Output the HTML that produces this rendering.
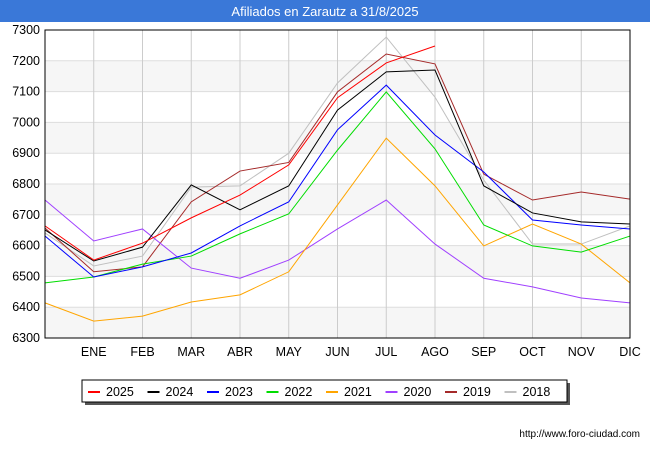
<!DOCTYPE html>
<html><head><meta charset="utf-8"><style>
body{margin:0;background:#fff;font-family:"Liberation Sans",sans-serif}
</style></head><body>
<svg id="c" width="650" height="450" xmlns="http://www.w3.org/2000/svg" font-family="Liberation Sans, sans-serif">
<rect x="0" y="0" width="650" height="22" fill="#3a78d8"/>
<text x="325" y="16" text-anchor="middle" fill="#fff" font-size="13">Afiliados en Zarautz a 31/8/2025</text>
<g id="grid"></g><g id="series"></g>
<rect x="45" y="30" width="585" height="308" fill="none" stroke="#000"/>
<g id="legend"></g>
<text x="640" y="437" text-anchor="end" font-size="10" fill="#000">http://www.foro-ciudad.com</text>
</svg>
<script>
const months=["","ENE","FEB","MAR","ABR","MAY","JUN","JUL","AGO","SEP","OCT","NOV","DIC"];
const yTicks=[6300,6400,6500,6600,6700,6800,6900,7000,7100,7200,7300];
const years=["2025","2024","2023","2022","2021","2020","2019","2018"];
const colors=["#ff0000","#000000","#0000ff","#00dd00","#ffa500","#a040ff","#a52a2a","#c0c0c0"];
const s2025=[6664,6553,6608,6690,6764,6862,7080,7193,7248];
const s2024=[6651,6550,6595,6797,6716,6794,7040,7164,7170,6794,6706,6677,6670];
const s2023=[6631,6498,6531,6576,6664,6742,6976,7121,6959,6839,6683,6667,6654];
const s2022=[6479,6498,6540,6566,6638,6703,6910,7099,6914,6667,6599,6579,6631];
const s2021=[6414,6355,6371,6417,6440,6515,6732,6949,6794,6599,6670,6605,6479];
const s2020=[6748,6615,6654,6527,6494,6553,6654,6748,6605,6494,6466,6430,6414];
const s2019=[6657,6515,6531,6742,6842,6870,7099,7222,7190,6832,6748,6774,6751];
const s2018=[6641,6534,6566,6790,6794,6900,7128,7277,7082,6813,6605,6605,6664];
const series=[s2025,s2024,s2023,s2022,s2021,s2020,s2019,s2018];
const NS="http://www.w3.org/2000/svg";
const X0=45,X1=630,Y0=338,Y1=30;
const x=i=>X0+i*(X1-X0)/12;
const y=v=>Y0-(v-6300)*(Y0-Y1)/1000;
function mk(t,a,p){const e=document.createElementNS(NS,t);for(const k in a)e.setAttribute(k,a[k]);p.appendChild(e);return e;}
const g=document.getElementById('grid');
for(let i=0;i<yTicks.length-1;i++){
 if(i%2==0){const r=mk('rect',{x:X0,y:y(yTicks[i+1]),width:X1-X0,height:y(yTicks[i])-y(yTicks[i+1]),fill:'#f6f6f6'},g);
 
 }
}
yTicks.forEach(v=>{
 const l=mk('line',{x1:X0,x2:X1,y1:y(v),y2:y(v),stroke:'#ddd'},g);
 
 
 const t=mk('text',{x:40,y:y(v)+4,'text-anchor':'end','font-size':'12.5',fill:'#000'},g);
 t.textContent=v;
 
 
});
months.forEach((m,i)=>{
 if(i==0)return;
 const l=mk('line',{x1:x(i),x2:x(i),y1:Y1,y2:Y0,stroke:'#ccc'},g);
 
 
 const t=mk('text',{x:x(i),y:356,'text-anchor':'middle','font-size':'12.5',fill:'#000'},g);
 t.textContent=m;
 
 
});
const sg=document.getElementById('series');
for(let k=series.length-1;k>=0;k--){
 const p=mk('polyline',{points:series[k].map((v,i)=>x(i)+','+y(v)).join(' '),fill:'none',stroke:colors[k],'stroke-width':1},sg);
 
 
}
const lg=document.getElementById('legend');
const sh=mk('rect',{x:85,y:383,width:485,height:22,fill:'#555'},lg);


const bx=mk('rect',{x:82,y:380,width:485,height:22,fill:'#fff',stroke:'#000'},lg);


years.forEach((yr,k)=>{
 const lx=88+k*59.5;
 const l=mk('line',{x1:lx,x2:lx+12,y1:392,y2:392,stroke:colors[k],'stroke-width':2},lg);
 
 
 const t=mk('text',{x:lx+18,y:396,'font-size':'12.5',fill:'#000'},lg);
 t.textContent=yr;
 
 
});
</script>
</body></html>
